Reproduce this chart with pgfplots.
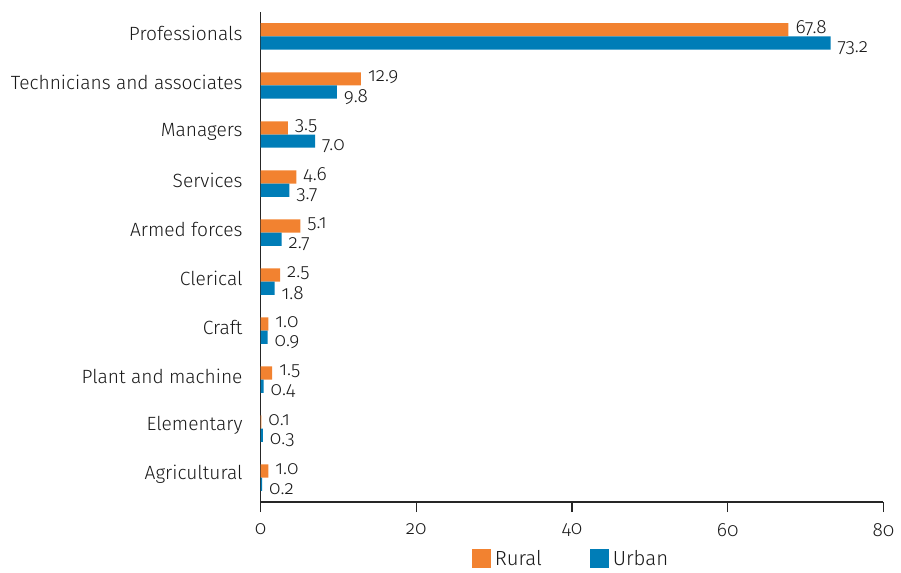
\documentclass[border=0pt]{standalone}
\usepackage{fontspec}
\setmainfont{Fira Sans}[UprightFont=* Light, Numbers=OldStyle]
\usepackage{pgfplots}
\pgfplotsset{compat=1.18}
\definecolor{rural}{HTML}{F28230}
\definecolor{urban}{HTML}{007DB7}
\newcommand{\lf}{\fontsize{9.6}{11}\selectfont}
\begin{document}
\begin{tikzpicture}
\begin{axis}[
  name=ax,
  scale only axis,
  width=312pt, height=245.5pt,
  xmin=0, xmax=80, ymin=-0.5, ymax=9.5,
  xbar, bar width=0.27,
  axis x line*=bottom, axis y line*=left,
  axis line style={black!85, line width=0.7pt},
  ytick={0,...,9},
  yticklabels={Agricultural, Elementary, Plant and machine, Craft, Clerical, Armed forces, Services, Managers, Technicians and associates, Professionals},
  xtick={0,20,40,60,80},
  tick align=outside,
  ytick style={draw=none},
  xtick style={black!85, line width=0.7pt},
  major tick length=5pt,
  font=\lf,
  tick label style={font=\lf, text=black!90},
  yticklabel style={xshift=-0.5pt, yshift=1.5pt},
  xticklabel style={yshift=-2pt},
  /pgf/number format/assume math mode=true,
  point meta=x,
  nodes near coords={\pgfmathprintnumber[fixed,fixed zerofill,precision=1,assume math mode=true]{\pgfplotspointmeta}},
  nodes near coords style={font=\lf, text=black!90, anchor=west},
  legend style={at={(0.5,-0.116)}, anchor=center, draw=none, legend columns=2,
    font=\fontsize{10.2}{12}\selectfont, inner sep=0pt, text=black!90,
    /tikz/every even column/.append style={column sep=22pt}},
  legend image code/.code={\fill[#1] (0pt,-4.75pt) rectangle (9.5pt,4.75pt);},
]
\addplot[draw=none, fill=rural, bar shift=0.135, nodes near coords style={yshift=1pt}] coordinates {
  (1.0,0) (0.1,1) (1.5,2) (1.0,3) (2.5,4) (5.1,5) (4.6,6) (3.5,7) (12.9,8) (67.8,9)
};
\addlegendentry{Rural}
\addplot[draw=none, fill=urban, bar shift=-0.135, nodes near coords style={yshift=-2.5pt}] coordinates {
  (0.2,0) (0.3,1) (0.4,2) (0.9,3) (1.8,4) (2.7,5) (3.7,6) (7.0,7) (9.8,8) (73.2,9)
};
\addlegendentry{Urban}
\end{axis}
\path (ax.south west) ++(-130.5pt,-33pt) coordinate (bl);
\path (ax.north east) ++(8pt,6pt) coordinate (tr);
\path[use as bounding box] (bl) rectangle (tr);
\end{tikzpicture}
\end{document}
